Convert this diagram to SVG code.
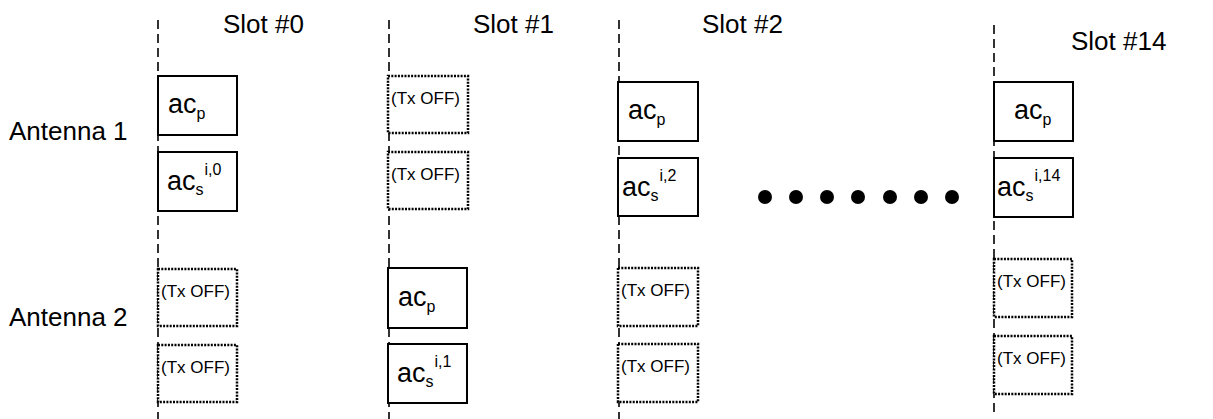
<svg xmlns="http://www.w3.org/2000/svg" width="1213" height="419" viewBox="0 0 1213 419">
<style>
  .lbl { font-family: "Liberation Sans", Arial, sans-serif; fill: #000; }
  .big { font-size: 26px; }
  .ac { font-size: 27px; }
  .sm { font-size: 16px; }
  .off { font-size: 17px; }
  .box { fill: #fff; stroke: #000; stroke-width: 2; }
  .dbox { fill: #fff; stroke: #000; stroke-width: 2.5; stroke-dasharray: 2 1.3; }
  .sep { stroke: #000; stroke-width: 1.6; stroke-dasharray: 9 5; fill: none; }
</style>
<rect width="1213" height="419" fill="#fff"/>
<g id="connectors">
  <line class="sep" x1="158" y1="20" x2="158" y2="419"/>
  <line class="sep" x1="389" y1="20" x2="389" y2="419"/>
  <line class="sep" x1="619" y1="20" x2="619" y2="419"/>
  <line class="sep" x1="994" y1="25" x2="994" y2="414"/>
</g>
<g id="labels">
  <text class="lbl big" x="223" y="33">Slot #0</text>
  <text class="lbl big" x="473" y="33">Slot #1</text>
  <text class="lbl big" x="702" y="33">Slot #2</text>
  <text class="lbl big" x="1071" y="50">Slot #14</text>
  <text class="lbl big" x="9" y="140">Antenna 1</text>
  <text class="lbl big" x="9" y="326">Antenna 2</text>
</g>
<g id="slot0">
  <g id="s0-a1-p"><rect class="box" x="158" y="76" width="79" height="59"/>
    <text class="lbl ac" x="168" y="113">ac<tspan class="sm" dy="6">p</tspan></text></g>
  <g id="s0-a1-s"><rect class="box" x="158" y="152" width="79" height="59"/>
    <text class="lbl ac" x="167" y="190">ac<tspan class="sm" dy="5">s</tspan><tspan class="sm" dx="1" dy="-20">i,0</tspan></text></g>
  <g id="s0-a2-1"><rect class="dbox" x="158" y="269" width="79" height="57"/>
    <text class="lbl off" x="161" y="297">(Tx OFF)</text></g>
  <g id="s0-a2-2"><rect class="dbox" x="158" y="345" width="79" height="57"/>
    <text class="lbl off" x="161" y="373">(Tx OFF)</text></g>
</g>
<g id="slot1">
  <g id="s1-a1-1"><rect class="dbox" x="388" y="76" width="80" height="57"/>
    <text class="lbl off" x="391" y="104">(Tx OFF)</text></g>
  <g id="s1-a1-2"><rect class="dbox" x="388" y="152" width="80" height="57"/>
    <text class="lbl off" x="391" y="180">(Tx OFF)</text></g>
  <g id="s1-a2-p"><rect class="box" x="388" y="268" width="79" height="60"/>
    <text class="lbl ac" x="398" y="306">ac<tspan class="sm" dy="6">p</tspan></text></g>
  <g id="s1-a2-s"><rect class="box" x="388" y="344" width="79" height="59"/>
    <text class="lbl ac" x="397" y="382">ac<tspan class="sm" dy="5">s</tspan><tspan class="sm" dx="1" dy="-20">i,1</tspan></text></g>
</g>
<g id="slot2">
  <g id="s2-a1-p"><rect class="box" x="618" y="82" width="80" height="59"/>
    <text class="lbl ac" x="628" y="119">ac<tspan class="sm" dy="6">p</tspan></text></g>
  <g id="s2-a1-s"><rect class="box" x="618" y="158" width="80" height="58"/>
    <text class="lbl ac" x="622" y="196">ac<tspan class="sm" dy="5">s</tspan><tspan class="sm" dx="1" dy="-20">i,2</tspan></text></g>
  <g id="s2-a2-1"><rect class="dbox" x="618" y="268" width="80" height="58"/>
    <text class="lbl off" x="621" y="296">(Tx OFF)</text></g>
  <g id="s2-a2-2"><rect class="dbox" x="618" y="344" width="80" height="58"/>
    <text class="lbl off" x="621" y="372">(Tx OFF)</text></g>
</g>
<g id="dots">
  <circle cx="765" cy="197" r="7"/>
  <circle cx="796" cy="197" r="7"/>
  <circle cx="827" cy="197" r="7"/>
  <circle cx="858" cy="197" r="7"/>
  <circle cx="890" cy="197" r="7"/>
  <circle cx="921" cy="197" r="7"/>
  <circle cx="952" cy="197" r="7"/>
</g>
<g id="slot14">
  <g id="s14-a1-p"><rect class="box" x="994" y="82" width="79" height="59"/>
    <text class="lbl ac" x="1014" y="119">ac<tspan class="sm" dy="6">p</tspan></text></g>
  <g id="s14-a1-s"><rect class="box" x="994" y="158" width="79" height="59"/>
    <text class="lbl ac" x="997" y="196">ac<tspan class="sm" dy="5">s</tspan><tspan class="sm" dx="1" dy="-20">i,14</tspan></text></g>
  <g id="s14-a2-1"><rect class="dbox" x="994" y="259" width="78" height="58"/>
    <text class="lbl off" x="997" y="287">(Tx OFF)</text></g>
  <g id="s14-a2-2"><rect class="dbox" x="994" y="336" width="78" height="58"/>
    <text class="lbl off" x="997" y="364">(Tx OFF)</text></g>
</g>
</svg>
